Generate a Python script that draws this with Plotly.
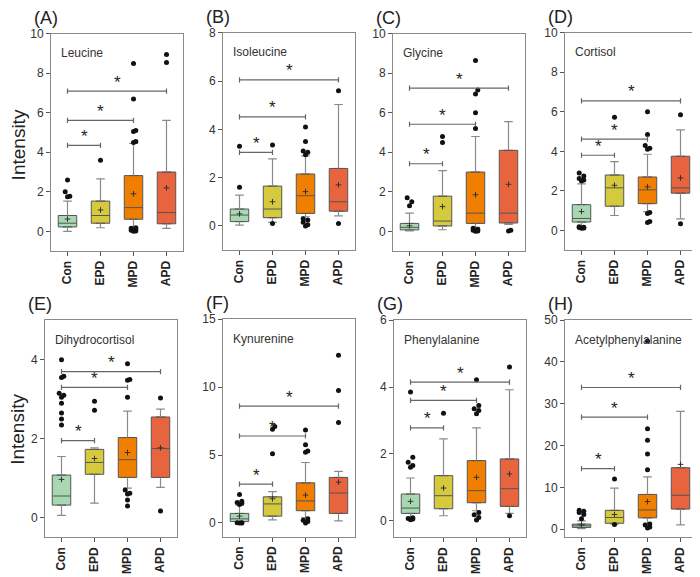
"""
Box plots of eight metabolites across Con / EPD / MPD / APD groups.
"""
import plotly.graph_objects as go

# the page body adds an 8px margin, so the figure is drawn 8px smaller and coords shifted
OFF = 8
W, H = 700 - OFF, 577 - OFF

groups = ["Con", "EPD", "MPD", "APD"]
colors = ["#a8d8b1", "#d5ca3e", "#f07f00", "#e8643f"]

names = ["Leucine", "Isoleucine", "Glycine", "Cortisol",
         "Dihydrocortisol", "Kynurenine", "Phenylalanine", "Acetylphenylalanine"]
tags = ["(A)", "(B)", "(C)", "(D)", "(E)", "(F)", "(G)", "(H)"]

q1 = [[0.22, 0.41, 0.61, 0.38], [0.18, 0.34, 0.52, 0.61], [0.07, 0.27, 0.40, 0.42], [0.42, 1.22, 1.35, 1.88],
      [0.32, 1.10, 1.02, 1.02], [0.10, 0.50, 0.90, 0.70], [0.22, 0.36, 0.54, 0.43], [0.40, 1.40, 2.70, 4.80]]
med = [[0.41, 0.80, 1.20, 0.95], [0.45, 0.70, 1.25, 1.00], [0.20, 0.52, 0.92, 0.92], [0.60, 2.15, 2.05, 2.15],
       [0.55, 1.40, 1.47, 1.75], [0.30, 1.40, 1.62, 2.20], [0.38, 0.75, 0.90, 0.96], [0.80, 2.80, 4.60, 8.10]]
q3 = [[0.80, 1.53, 2.82, 3.00], [0.70, 1.65, 2.15, 2.38], [0.40, 1.78, 3.00, 4.10], [1.30, 2.80, 2.70, 3.75],
      [1.08, 1.73, 2.03, 2.55], [0.70, 1.92, 2.95, 3.35], [0.80, 1.35, 1.80, 1.85], [1.20, 4.50, 8.30, 14.7]]
low = [[0.00, 0.18, 0.20, 0.15], [0.03, 0.15, 0.38, 0.42], [0.02, 0.08, 0.20, 0.35], [0.22, 0.75, 0.95, 0.58],
       [0.06, 0.37, 0.75, 0.77], [0.05, 0.22, 0.40, 0.15], [0.10, 0.15, 0.30, 0.22], [0.10, 1.20, 1.40, 1.00]]
high = [[1.53, 2.65, 4.45, 5.62], [1.28, 2.78, 2.90, 5.03], [0.92, 3.07, 4.80, 5.55], [2.35, 3.48, 3.85, 5.08],
        [1.55, 1.77, 2.70, 2.75], [1.30, 2.30, 4.45, 3.80], [1.28, 2.45, 2.78, 3.92], [2.00, 9.80, 12.5, 28.2]]
means = [[0.62, 1.08, 1.90, 2.20], [0.50, 1.00, 1.42, 1.70], [0.28, 1.25, 1.85, 2.38], [0.95, 2.28, 2.20, 2.65],
         [0.97, 1.50, 1.65, 1.77], [0.50, 1.78, 2.05, 3.00], [0.58, 0.98, 1.30, 1.40], [1.00, 3.50, 6.60, 15.5]]

outliers = [
    [[1.75, 1.78, 2.0, 2.6], [3.6], [0.0, 0.02, 0.05, 0.1, 0.15, 0.18, 4.5, 4.55, 5.05, 5.1, 6.7, 8.5], [8.55, 8.95]],
    [[1.6, 3.3], [0.1, 3.35], [0.0, 0.05, 0.15, 0.25, 0.3, 2.95, 3.05, 3.1, 3.5, 4.1], [0.1, 5.6]],
    [[1.3, 1.5, 1.7], [4.5, 4.8], [0.0, 0.02, 0.05, 0.1, 0.15, 5.2, 6.0, 6.95, 7.15, 8.65], [0.02, 0.05]],
    [[0.1, 0.12, 0.14, 0.16, 0.18, 2.5, 2.55, 2.62, 2.75, 2.9], [5.72], [0.4, 0.45, 0.85, 0.9, 4.1, 4.15, 4.3, 4.85, 6.0], [0.33, 5.85]],
    [[2.35, 2.5, 2.65, 2.9, 3.05, 3.1, 3.15, 3.55, 3.58, 4.0], [2.72, 2.95], [0.3, 0.45, 0.6, 0.62, 0.7, 3.05, 3.48, 3.5, 3.9], [0.17, 3.03]],
    [[0.0, 0.0, 0.02, 0.02, 1.35, 1.45, 1.5, 1.6, 2.1], [5.1, 6.9, 7.1], [0.0, 0.1, 0.2, 0.3, 5.2, 5.3, 5.75, 6.85], [7.4, 9.75, 12.35]],
    [[0.03, 0.05, 0.07, 0.09, 1.6, 1.65, 1.75, 1.9, 3.85], [3.22], [0.02, 0.1, 0.18, 0.25, 3.2, 3.3, 3.35, 3.45, 4.22], [0.15, 4.6]],
    [[2.5, 3.5, 4.0, 4.3, 4.5], [1.1, 12.0], [0.3, 0.5, 1.0, 1.2, 14.2, 18.0, 21.3, 24.0, 45.0], []],
]

# heights of the Con-vs-group significance bars (EPD, MPD, APD)
sig_bars = [[4.35, 5.62, 7.1], [3.05, 4.52, 6.05], [3.42, 5.42, 7.25], [3.8, 4.62, 6.55],
            [1.95, 3.3, 3.7], [2.85, 6.4, 8.6], [2.78, 3.6, 4.15], [14.5, 26.8, 33.9]]

y_ranges = [[-1, 10], [-1, 8], [-1, 10], [-1, 10], [-0.5, 5], [-1, 15], [-0.5, 6], [-2, 50]]
y_dticks = [2, 2, 2, 2, 2, 5, 2, 10]

# panel frames in window pixels: (left, right, top, bottom)
frames = [(51, 183, 27, 247), (223, 355, 26, 246), (393, 525, 27, 247), (565, 697, 26, 246),
          (45, 177, 317, 537), (223, 355, 316, 536), (394, 526, 317, 537), (565, 697, 317, 537)]

FONT = "Arial, Liberation Sans, sans-serif"
BOX_LINE = "#555555"
WHISKER = "#8a8a8a"
fig = go.Figure()
shapes, annos = [], []


def px_x(v):
    return (v - OFF) / W


def px_y(v):
    return 1 - (v - OFF) / H


for p in range(8):
    ax = "" if p == 0 else str(p + 1)
    xr, yr = "x" + ax, "y" + ax
    l, r, t, b = frames[p]
    span = y_ranges[p][1] - y_ranges[p][0]

    for g in range(4):
        # whiskers and caps (grey), drawn under the box
        fig.add_trace(go.Scatter(
            x=[g, g, None, g, g, None, g - 0.13, g + 0.13, None, g - 0.13, g + 0.13],
            y=[low[p][g], q1[p][g], None, q3[p][g], high[p][g], None,
               low[p][g], low[p][g], None, high[p][g], high[p][g]],
            mode="lines", line=dict(color=WHISKER, width=1.2),
            hoverinfo="skip", xaxis=xr, yaxis=yr, showlegend=False))
        fig.add_trace(go.Box(
            x=[g], q1=[q1[p][g]], median=[med[p][g]], q3=[q3[p][g]],
            lowerfence=[q1[p][g]], upperfence=[q3[p][g]],
            width=0.56, fillcolor=colors[g], line=dict(color=BOX_LINE, width=1),
            boxpoints=False, hoverinfo="skip", xaxis=xr, yaxis=yr, showlegend=False))
        # outliers, nudging close neighbours sideways
        pts = sorted(outliers[p][g])
        xs, prev, k = [], None, 0
        for v in pts:
            if prev is not None and abs(v - prev) < 0.025 * span:
                k += 1
            else:
                k = 0
            xs.append(g + (0 if k == 0 else (0.07 if k % 2 else -0.07)))
            prev = v
        if pts:
            fig.add_trace(go.Scatter(
                x=xs, y=pts, mode="markers",
                marker=dict(color="#111111", size=5),
                hoverinfo="skip", xaxis=xr, yaxis=yr, showlegend=False))
    # means
    fig.add_trace(go.Scatter(
        x=list(range(4)), y=means[p], mode="markers",
        marker=dict(symbol="cross-thin", size=4, line=dict(color="#333333", width=1)),
        hoverinfo="skip", xaxis=xr, yaxis=yr, showlegend=False))

    # significance bars
    for j, yv in enumerate(sig_bars[p]):
        tk = 0.012 * span
        for x0, y0, x1, y1 in [(0, yv, j + 1, yv), (0, yv - tk, 0, yv + tk), (j + 1, yv - tk, j + 1, yv + tk)]:
            shapes.append(dict(type="line", xref=xr, yref=yr, x0=x0, y0=y0, x1=x1, y1=y1,
                               line=dict(color="#666666", width=1.2)))
        annos.append(dict(x=(j + 1) / 2, y=yv, xref=xr, yref=yr, text="*", showarrow=False,
                          yanchor="middle", yshift=9, font=dict(size=17, color="#222222", family=FONT)))

    annos.append(dict(x=0.06, y=0.91, xref=xr + " domain", yref=yr + " domain", text=names[p],
                      showarrow=False, xanchor="left", yanchor="middle",
                      font=dict(size=12, color="#333333", family=FONT)))
    annos.append(dict(x=px_x(l - 19), y=px_y(t - 16), xref="paper", yref="paper", text=tags[p],
                      showarrow=False, xanchor="left", yanchor="middle",
                      font=dict(size=18, color="#222222", family=FONT)))

    fig.layout["xaxis" + ax] = dict(
        domain=[px_x(l), px_x(r)], anchor=yr, range=[-0.5, 3.5],
        tickvals=list(range(4)), ticktext=["<b>%s</b>" % s for s in groups], tickangle=-90,
        ticks="outside", ticklen=4, tickcolor="#555555", showgrid=False, zeroline=False,
        showline=True, mirror=True, linecolor="#8a8a8a", linewidth=1,
        tickfont=dict(size=12, color="#222222", family=FONT))
    fig.layout["yaxis" + ax] = dict(
        domain=[px_y(b), px_y(t)], anchor=xr, range=y_ranges[p], dtick=y_dticks[p], tick0=0,
        ticks="outside", ticklen=4, tickcolor="#555555", showgrid=False, zeroline=False,
        showline=True, mirror=True, linecolor="#8a8a8a", linewidth=1,
        tickfont=dict(size=12, color="#333333", family=FONT))

for yc in [140, 428]:
    annos.append(dict(x=px_x(18), y=px_y(yc), xref="paper", yref="paper", text="Intensity",
                      textangle=-90, showarrow=False, xanchor="center", yanchor="middle",
                      font=dict(size=19, color="#222222", family=FONT)))

fig.update_layout(
    width=W, height=H, margin=dict(l=0, r=0, t=0, b=0),
    paper_bgcolor="white", plot_bgcolor="white",
    shapes=shapes, annotations=annos, boxgap=0, font=dict(family=FONT))

fig.write_html("out.html")
